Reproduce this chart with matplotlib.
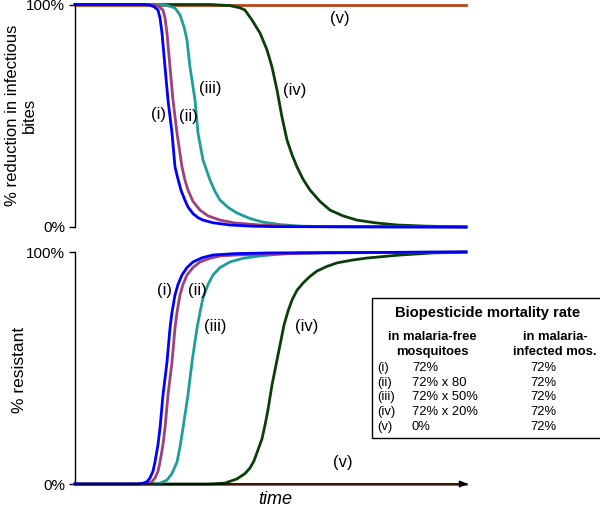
import matplotlib.pyplot as plt
from matplotlib.patches import Rectangle

W, H = 600, 512

# ── curve samples (time in arbitrary units, value in %) ──
top_i_t  = [0, 70, 75, 79, 83, 85, 87, 90, 93, 97, 100, 103, 106, 110, 113, 118, 123, 128, 138, 155, 175, 200, 391]
top_i_y  = [100, 100, 99.7, 99, 97.5, 94, 87.2, 71.9, 57.1, 42.2, 27.0, 21.5, 16.5, 12, 9.0, 6.0, 4.2, 3.1, 1.9, 0.9, 0.4, 0.15, 0]
top_ii_t = [0, 75, 80, 84, 88, 90, 92, 95, 98, 102, 107, 110, 113, 118, 125, 133, 145, 160, 185, 225, 391]
top_ii_y = [100, 100, 99.7, 99, 97.5, 94, 87.2, 71.9, 57.1, 42.2, 27.0, 21, 16.6, 11.5, 7.6, 5, 3.1, 1.8, 0.9, 0.2, 0]
top_iii_t = [0, 85, 92, 100, 105, 109, 112, 115, 120, 123, 128, 135, 140, 145, 153, 162, 175, 188, 205, 225, 260, 391]
top_iii_y = [100, 100, 99.6, 98.4, 95.3, 90, 84.0, 71.9, 57.1, 42.2, 30.1, 21.1, 16, 12.1, 8.8, 6.3, 3.8, 2.2, 1.1, 0.4, 0.1, 0]
top_iv_t = [0, 135, 155, 165, 170, 177, 185, 192, 197, 202, 207, 212, 217, 222, 228, 235, 245, 255, 268, 282, 300, 322, 350, 391]
top_iv_y = [100, 100, 99.5, 98.5, 97.5, 93.0, 87.2, 79.6, 71.9, 61.6, 49.4, 39.1, 32.5, 27.0, 21.5, 16.6, 11.5, 7.6, 5, 3.1, 1.9, 0.9, 0.4, 0]
top_v_t  = [0, 391]
top_v_y  = [100, 100]

bot_i_t  = [0, 62, 68, 72, 75, 78, 80, 83, 85, 88, 92, 95, 97, 100, 103, 107, 112, 118, 127, 138, 160, 195, 391]
bot_i_y  = [0, 0, 0.3, 1, 2.6, 5.5, 9.5, 17, 24.1, 38.4, 52.6, 67.2, 74, 81.5, 86, 90.1, 93.3, 95.7, 97.5, 98.7, 99.3, 99.6, 100]
bot_ii_t = [0, 67, 73, 77, 80, 83, 85, 88, 90, 93, 97, 100, 102, 105, 108, 112, 118, 125, 135, 145, 165, 195, 250, 391]
bot_ii_y = [0, 0, 0.3, 1, 2.6, 5.5, 9.5, 17, 24.1, 38.4, 52.6, 67.2, 74, 81.5, 86, 90.1, 93.3, 95.7, 97.3, 98.3, 98.8, 99.1, 99.6, 100]
bot_iii_t = [0, 78, 85, 92, 97, 102, 105, 108, 113, 117, 122, 125, 128, 133, 138, 145, 155, 168, 185, 205, 225, 391]
bot_iii_y = [0, 0, 0.3, 1.7, 4.5, 9.5, 16, 24.1, 38.4, 52.6, 67.2, 74, 80.2, 86, 90.1, 93.3, 95.7, 97.3, 98.3, 99.1, 99.6, 100]
bot_iv_t = [0, 135, 150, 162, 170, 175, 179, 183, 187, 190, 193, 197, 203, 209, 213, 217, 222, 228, 235, 242, 252, 262, 277, 292, 325, 358, 391]
bot_iv_y = [0, 0, 0.4, 2.2, 4.5, 6.9, 10, 14.7, 19.5, 25.4, 32, 42.7, 55.6, 68.5, 74.5, 79.3, 83.5, 86.6, 89.5, 91.8, 93.8, 95.3, 96.5, 97.4, 98.7, 99.6, 100]
bot_v_t  = [0, 391]
bot_v_y  = [0, 0]

labels = ["(i)", "(ii)", "(iii)", "(iv)", "(v)"]
colors = ["#0000FF", "#A0407A", "#1E9E9A", "#0A3F0A", "#B5461A"]

rate_free = ["72%", "72% x 80", "72% x 50%", "72% x 20%", "0%"]
rate_inf  = ["72%", "72%", "72%", "72%", "72%"]

T_MAX = 391
FONT = "Liberation Sans"


def px_axes(x0, y_top, x1, y_bot):
    return fig.add_axes([x0 / W, 1 - y_bot / H, (x1 - x0) / W, (y_bot - y_top) / H])


def style(ax):
    ax.set_xlim(0, T_MAX)
    ax.set_ylim(0, 100)
    for s in ["top", "right", "bottom"]:
        ax.spines[s].set_visible(False)
    ax.spines["left"].set_linewidth(1.0)
    ax.set_yticks([0, 100])
    ax.set_yticklabels(["0%", "100%"], fontsize=11, family=FONT)
    ax.tick_params(axis="y", direction="out", length=4, width=1, pad=3)
    ax.set_xticks([])


fig = plt.figure(figsize=(W / 100, H / 100), dpi=100, facecolor="white")

# ── top panel ─────────────────────────────────────────────────────────────────
ax1 = px_axes(75, 4.5, 466, 227)
style(ax1)
top = [(top_v_t, top_v_y), (top_iv_t, top_iv_y), (top_iii_t, top_iii_y),
       (top_ii_t, top_ii_y), (top_i_t, top_i_y)]
for (t, y), c in zip(top, colors[::-1]):
    ax1.plot(t, y, color=c, lw=2, clip_on=False, solid_joinstyle="round")

for lab, (x, y) in zip(labels, [(159, 114), (188, 117), (210, 88), (295, 90), (340, 19)]):
    ax1.text(x - 75, 100 * (227 - y) / 222.5, lab, ha="center", va="center",
             fontsize=12, family=FONT)

fig.text(21 / W, 1 - 115 / H, "% reduction in infectious\nbites", rotation=90,
         ha="center", va="center", fontsize=12, family=FONT,
         linespacing=1.2, multialignment="center")

# ── bottom panel ──────────────────────────────────────────────────────────────
ax2 = px_axes(75, 252, 466, 484)
style(ax2)
ax2.annotate("", xy=(T_MAX + 5, 0), xytext=(0, 0), xycoords="data",
             arrowprops=dict(arrowstyle="-|>,head_length=0.5,head_width=0.2",
                             color="black", lw=1), annotation_clip=False)
bot = [(bot_v_t, bot_v_y), (bot_iv_t, bot_iv_y), (bot_iii_t, bot_iii_y),
       (bot_ii_t, bot_ii_y), (bot_i_t, bot_i_y)]
for (t, y), c in zip(bot, colors[::-1]):
    ax2.plot(t, y, color=c, lw=2, clip_on=False, solid_joinstyle="round")

for lab, (x, y) in zip(labels, [(165, 290), (197, 290), (215, 327), (307, 327), (343, 463)]):
    ax2.text(x - 75, 100 * (484 - y) / 232, lab, ha="center", va="center",
             fontsize=12, family=FONT)

fig.text(20 / W, 1 - 370 / H, "% resistant", rotation=90, ha="center", va="center",
         fontsize=12.5, family=FONT)
fig.text(275 / W, 1 - 499 / H, "time", ha="center", va="center", fontsize=13,
         fontstyle="italic", family=FONT)

# ── legend table ──────────────────────────────────────────────────────────────
fig.add_artist(Rectangle((372 / W, 1 - 438 / H), (605 - 372) / W, (438 - 298) / H,
                         transform=fig.transFigure, fc="white", ec="black", lw=1))


def ftext(x, y, s, **kw):
    kw.setdefault("family", FONT)
    fig.text(x / W, 1 - y / H, s, va="center", **kw)


ftext(488, 313, "Biopesticide mortality rate", ha="center", fontsize=10.6,
      fontweight="bold")
ftext(432, 337, "in malaria-free", ha="center", fontsize=9.4, fontweight="bold")
ftext(432, 352, "mosquitoes", ha="center", fontsize=9.4, fontweight="bold")
ftext(555, 337, "in malaria-", ha="center", fontsize=9.4, fontweight="bold")
ftext(555, 352, "infected mos.", ha="center", fontsize=9.4, fontweight="bold")
for k, (lab, a, b) in enumerate(zip(labels, rate_free, rate_inf)):
    y = 368 + k * 14.7
    ftext(377, y, lab, ha="left", fontsize=9.4)
    ftext(412, y, a, ha="left", fontsize=9.4)
    ftext(543, y, b, ha="center", fontsize=9.4)

fig.savefig("out.png", dpi=100, facecolor="white")
